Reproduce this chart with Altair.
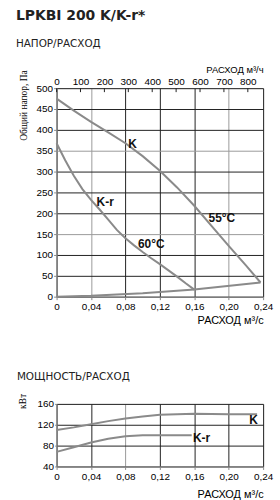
import altair as alt
import pandas as pd

# ---- data ----
flow_k = [0, 0.02, 0.04, 0.06, 0.08, 0.10, 0.12, 0.14, 0.16, 0.18, 0.20, 0.22, 0.237]
press_k = [475, 446, 419, 394, 368, 337, 302, 262, 218, 170, 122, 75, 34]

flow_kr = [0, 0.01, 0.02, 0.03, 0.04, 0.05, 0.06, 0.07, 0.08, 0.09, 0.10, 0.11, 0.12, 0.13, 0.14, 0.15, 0.16]
press_kr = [368, 327, 290, 258, 232, 209, 185, 160, 140, 123, 107, 92, 78, 63, 48, 32, 17]

flow_sys = [0, 0.04, 0.10, 0.160, 0.237]
press_sys = [0, 2, 8, 17, 34]

pw_flow_k = [0, 0.02, 0.04, 0.06, 0.08, 0.10, 0.12, 0.14, 0.16, 0.20, 0.233]
pw_k = [110, 115, 121, 127, 132, 136, 139, 140, 141, 140, 140]
pw_flow_kr = [0, 0.02, 0.04, 0.06, 0.08, 0.10, 0.12, 0.157]
pw_kr = [68, 77, 86, 93, 98, 100, 100, 100]

x_ticks = [0, 0.04, 0.08, 0.12, 0.16, 0.20, 0.24]
top_ticks = [0, 100, 200, 300, 400, 500, 600, 700, 800]
y_ticks_top = [0, 50, 100, 150, 200, 250, 300, 350, 400, 450, 500]
y_ticks_bot = [40, 80, 120, 160]

lbl_top_x = [0.0883, 0.0565, 0.110, 0.192]
lbl_top_y = [367, 227, 126, 188]
lbl_top_t = ["K", "K-r", "60°C", "55°C"]

lbl_bot_x = [0.229, 0.1585]
lbl_bot_y = [129.5, 95]
lbl_bot_t = ["K", "K-r"]
lbl_bot_align = ["center", "left"]

# ---- tables ----
df_press = pd.concat([
    pd.DataFrame({"q": flow_k, "p": press_k, "s": "K"}),
    pd.DataFrame({"q": flow_kr, "p": press_kr, "s": "K-r"}),
    pd.DataFrame({"q": flow_sys, "p": press_sys, "s": "sys"}),
])
df_pw = pd.concat([
    pd.DataFrame({"q": pw_flow_k, "w": pw_k, "s": "K"}),
    pd.DataFrame({"q": pw_flow_kr, "w": pw_kr, "s": "K-r"}),
])
df_lbl_top = pd.DataFrame({"q": lbl_top_x, "p": lbl_top_y, "t": lbl_top_t})
df_lbl_bot = pd.DataFrame({"q": lbl_bot_x, "w": lbl_bot_y, "t": lbl_bot_t, "a": lbl_bot_align})
df_top = pd.DataFrame({"m3h": top_ticks})

DARK = "#222222"
GRAY = "#9a9a9a"
CURVE = "#8a8a8a"
LBL_FONT = "Liberation Sans Narrow"
TITLE_FONT = "Liberation Sans"
xfmt = "datum.value == 0 ? '0' : replace(format(datum.value, '.2f'), '.', ',')"


def grid_color(test):
    return {"condition": {"test": test, "value": GRAY}, "value": DARK}


common_axis = dict(labelOverlap=False, labelFlush=False, titleFontWeight="normal")

x_scale = alt.Scale(domain=[0, 0.24], nice=False, zero=False)
y_scale_top = alt.Scale(domain=[0, 500], nice=False)
y_scale_bot = alt.Scale(domain=[40, 160], nice=False, zero=False)

# ---------------- top chart ----------------
x_axis_top = alt.Axis(
    values=x_ticks, labelExpr=xfmt, grid=True,
    gridColor=grid_color("abs(datum.value-0.04)<1e-6 || abs(datum.value-0.2)<1e-6"),
    tickSize=3, labelPadding=2, title="РАСХОД м³/с",
    titleX=208, titleY=27, titleAlign="right", titleBaseline="alphabetic",
    **common_axis,
)
y_axis_top = alt.Axis(
    values=y_ticks_top, grid=True,
    gridColor=grid_color("datum.value == 150 || datum.value == 350"),
    tickSize=3, labelPadding=1, title="Общий напор, Па",
    titleX=-33, titleY=17, titleAngle=270, titleAlign="center", titleBaseline="middle",
    titleFont=LBL_FONT, titleFontSize=9.5, **common_axis,
)

lines_top = alt.Chart(df_press).mark_line(color=CURVE, strokeWidth=2).encode(
    x=alt.X("q:Q", scale=x_scale, axis=x_axis_top),
    y=alt.Y("p:Q", scale=y_scale_top, axis=y_axis_top),
    detail="s:N",
)
text_top = alt.Chart(df_lbl_top).mark_text(
    font=TITLE_FONT, fontWeight="bold", fontSize=12, color="#111"
).encode(
    x=alt.X("q:Q", scale=x_scale, axis=x_axis_top),
    y=alt.Y("p:Q", scale=y_scale_top, axis=y_axis_top),
    text="t:N",
)

top_axis_ticks = alt.Chart(df_top).mark_rule(color=DARK, strokeWidth=1).encode(
    x=alt.X("m3h:Q", scale=alt.Scale(domain=[0, 864], nice=False),
            axis=alt.Axis(orient="top", values=top_ticks, ticks=False, grid=False,
                          domain=False, labelPadding=2, title="РАСХОД м³/ч",
                          titleX=208, titleY=-16, titleAlign="right",
                          titleBaseline="alphabetic", titleFontSize=9.5,
                          **common_axis)),
    y=alt.value(0), y2=alt.value(4),
)

titles_top = alt.Chart(pd.DataFrame({"t": ["LPKBI 200 K/K-r*"]})).mark_text(
    font="DejaVu Sans", fontWeight="bold", fontSize=14, color=DARK,
    align="left", baseline="alphabetic",
).encode(text="t:N", x=alt.value(-41), y=alt.value(-69))
sub_top = alt.Chart(pd.DataFrame({"t": ["НАПОР/РАСХОД"]})).mark_text(
    font="DejaVu Sans", fontSize=10.5, color=DARK, align="left", baseline="alphabetic",
).encode(text="t:N", x=alt.value(-41), y=alt.value(-41))

top = alt.layer(
    alt.layer(lines_top, text_top, titles_top, sub_top),
    top_axis_ticks,
).resolve_scale(x="independent").properties(width=208, height=210)

# ---------------- bottom chart ----------------
x_axis_bot = alt.Axis(
    values=x_ticks, labelExpr=xfmt, grid=True,
    gridColor=grid_color("abs(datum.value-0.08)<1e-6"),
    tickSize=3, labelPadding=2, title="РАСХОД м³/с",
    titleX=208, titleY=31, titleAlign="right", titleBaseline="alphabetic",
    **common_axis,
)
y_axis_bot = alt.Axis(
    values=y_ticks_bot, grid=True, gridColor=DARK, tickSize=2, labelPadding=1,
    title="кВт", titleX=-34, titleY=-3, titleAngle=270, titleAlign="center",
    titleBaseline="middle", titleFont=LBL_FONT, titleFontSize=9.5, **common_axis,
)
enc_bot = dict(
    x=alt.X("q:Q", scale=x_scale, axis=x_axis_bot),
    y=alt.Y("w:Q", scale=y_scale_bot, axis=y_axis_bot),
)
lines_bot = alt.Chart(df_pw).mark_line(color=CURVE, strokeWidth=2).encode(
    detail="s:N", **enc_bot
)
text_bot_c = alt.Chart(df_lbl_bot[df_lbl_bot.a == "center"]).mark_text(
    font=TITLE_FONT, fontWeight="bold", fontSize=12, color="#111", align="center"
).encode(text="t:N", **enc_bot)
text_bot_l = alt.Chart(df_lbl_bot[df_lbl_bot.a == "left"]).mark_text(
    font=TITLE_FONT, fontWeight="bold", fontSize=12, color="#111", align="left"
).encode(text="t:N", **enc_bot)
title_bot = alt.Chart(pd.DataFrame({"t": ["МОЩНОСТЬ/РАСХОД"]})).mark_text(
    font="DejaVu Sans", fontSize=10.5, color=DARK, align="left", baseline="alphabetic",
).encode(text="t:N", x=alt.value(-40), y=alt.value(-24))

bottom = alt.layer(lines_bot, text_bot_c, text_bot_l, title_bot).properties(width=208, height=63)

chart = alt.vconcat(top, bottom, spacing=108, bounds="flush").properties(
    padding={"left": 15, "top": 6, "right": 6, "bottom": 0}
).configure_view(stroke="black", strokeWidth=1).configure_axis(
    domain=False, labelFont=LBL_FONT, labelFontSize=9.5, labelColor="#333",
    tickColor=DARK, titleFont=TITLE_FONT, titleFontSize=10, titleFontWeight="normal",
    titleColor=DARK, gridWidth=1,
).configure(background="white")

chart.save("out.html", embed_options={"renderer": "svg", "actions": False})
